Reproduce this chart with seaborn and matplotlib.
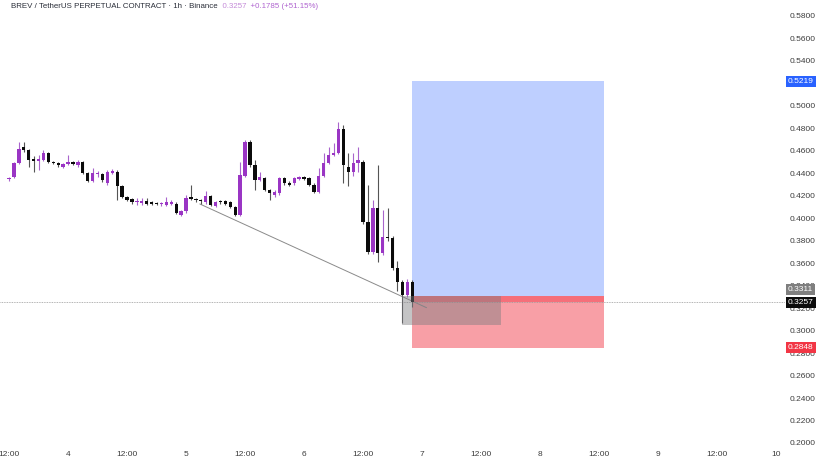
import numpy as np
import pandas as pd
import seaborn as sns
import matplotlib
matplotlib.use("Agg")
import matplotlib.pyplot as plt
from matplotlib.patches import Rectangle

# ---------------- data ----------------
opens = [.435, .437, .449, .463, .461, .453, .451, .452, .458, .450,
         .449, .446, .448, .450, .447, .450, .440, .433, .439, .439,
         .431, .440, .441, .429, .419, .417, .414, .4136, .415, .414,
         .413, .4125, .412, .413, .413, .403, .406, .419, .417, .416,
         .414, .420, .411, .415, .415, .414, .410, .403, .438, .468,
         .447, .434, .436, .425, .421, .422, .436, .431, .431, .435,
         .437, .436, .430, .423, .438, .449, .456, .458, .479, .446,
         .441, .449, .450, .397, .370, .409, .369, .383, .382, .356,
         .343, .332, .343]
highs = [.437, .450, .468, .468, .462, .455, .456, .461, .459, .451,
         .450, .449, .456, .451, .452, .451, .441, .445, .442, .440,
         .443, .444, .443, .430, .420, .418, .418, .418, .418, .415,
         .414, .414, .419, .416, .414, .407, .421, .430, .418, .417,
         .424, .421, .415, .416, .416, .415, .411, .450, .470, .470,
         .452, .441, .437, .426, .425, .437, .437, .433, .437, .438,
         .438, .437, .431, .445, .458, .463, .467, .486, .483, .458,
         .458, .463, .452, .430, .416, .447, .407, .409, .384, .362,
         .345, .346, .345]
lows = [.433, .436, .448, .459, .446, .441, .443, .451, .449, .448,
        .446, .445, .447, .447, .446, .439, .432, .432, .437, .432,
        .430, .439, .416, .418, .415, .413, .412, .412, .412, .412,
        .412, .411, .411, .412, .404, .402, .405, .416, .414, .413,
        .413, .411, .410, .413, .412, .409, .402, .402, .437, .446,
        .425, .433, .424, .416, .419, .421, .430, .429, .430, .434,
        .434, .429, .422, .422, .437, .448, .455, .457, .431, .429,
        .438, .441, .395, .368, .368, .361, .367, .380, .354, .335,
        .307, .330, .321]
closes = [.436, .449, .462, .461, .452, .451, .453, .458, .450, .449,
          .447, .448, .450, .448, .450, .440, .433, .440, .440, .434,
          .441, .442, .429, .419, .416, .414, .4145, .415, .413, .413,
          .4125, .413, .414, .414, .405, .406, .418, .417, .416, .415,
          .420, .412, .414, .414, .413, .410, .403, .4385, .468, .447,
          .434, .437, .425, .422, .423, .436, .431, .430, .436, .437,
          .435, .430, .423, .438, .449, .456, .458, .479, .447, .441,
          .449, .452, .397, .370, .409, .369, .383, .382, .356, .343,
          .332, .343, .3257]

tick_pos = [0, 12, 24, 36, 48, 60, 72, 84, 96, 108, 120, 132, 144, 156]
tick_labels = ["12:00", "4", "12:00", "5", "12:00", "6", "12:00", "7",
               "12:00", "8", "12:00", "9", "12:00", "10"]
# 0.52 is fully hidden behind the target tag in the reference
price_ticks = [0.20, 0.22, 0.24, 0.26, 0.28, 0.30, 0.32, 0.34, 0.36, 0.38,
               0.40, 0.42, 0.44, 0.46, 0.48, 0.50, 0.54, 0.56, 0.58]

entry_price = 0.3311
target_price = 0.5219
stop_price = 0.2848
current_price = 0.3257
box_start, box_end = 82, 121
grey_start, grey_end, grey_low = 80, 100, 0.3054
trend_x = [38.8, 84.9]
trend_y = [0.4127, 0.3204]

df = pd.DataFrame({"i": np.arange(len(opens)), "open": opens, "high": highs,
                   "low": lows, "close": closes})
df["up"] = df["close"] >= df["open"]

# ---------------- style ----------------
sns.set_theme(style="white")
plt.rcParams["font.family"] = ["Liberation Sans", "DejaVu Sans"]

PURPLE = "#9a35c4"
PURPLE_WICK = "#a964cc"
BLACK = "#0b0b0b"
BLACK_WICK = "#555555"

fig = plt.figure(figsize=(8.29, 4.66), dpi=100)
ax = fig.add_axes([0, 19 / 466, 785 / 829, 447 / 466])
for s in ax.spines.values():
    s.set_visible(False)

# position tool boxes
ax.add_patch(Rectangle((box_start, entry_price), box_end - box_start,
                       target_price - entry_price, fc="#2962ff", alpha=0.30,
                       ec="none", zorder=1))
ax.add_patch(Rectangle((box_start, stop_price), box_end - box_start,
                       entry_price - stop_price, fc="#f23645", alpha=0.48,
                       ec="none", zorder=1))
ax.add_patch(Rectangle((box_start, current_price), box_end - box_start,
                       entry_price - current_price, fc="#f23645", alpha=0.45,
                       ec="none", zorder=1))
ax.add_patch(Rectangle((grey_start, grey_low), grey_end - grey_start,
                       entry_price - grey_low, fc="#7c7c80", alpha=0.45,
                       ec="none", zorder=4))

# current price line
ax.axhline(current_price, color="#9a9a9a", lw=0.6, ls=(0, (1, 1)), zorder=2)

# trend line
sns.lineplot(x=trend_x, y=trend_y, ax=ax, color="#8a8a8a", lw=0.7, zorder=2)

# candles
for up, body_c, wick_c in [(True, PURPLE, PURPLE_WICK), (False, BLACK, BLACK_WICK)]:
    d = df[df["up"] == up]
    ax.vlines(d["i"], d["low"], d["high"], color=wick_c, lw=0.8, zorder=3)
    bottoms = np.minimum(d["open"], d["close"])
    heights = np.maximum(np.abs(d["close"] - d["open"]), 0.0012)
    ax.bar(d["i"], heights, bottom=bottoms, width=0.68, color=body_c,
           edgecolor="none", zorder=3)

ax.set_xlim(-1.83, 157.8)
ax.set_ylim(0.1964, 0.5942)

ax.set_xticks(tick_pos)
ax.set_xticklabels(tick_labels)
ax.set_yticks(price_ticks)
ax.set_yticklabels([f"{p:.4f}" for p in price_ticks])
ax.yaxis.tick_right()
ax.tick_params(axis="y", length=0, pad=3.6, labelsize=6.0, colors="#3c3c3c")
ax.tick_params(axis="x", length=0, pad=3.0, labelsize=6.0, colors="#3c3c3c")
ax.set_xlabel("")
ax.set_ylabel("")
ax.grid(False)


def tag(price, text, bg, dy=0.0):
    ax.annotate(text, xy=(1, price), xycoords=("axes fraction", "data"),
                xytext=(2.2, dy), textcoords="offset points", ha="left",
                va="center", fontsize=6.0, color="white",
                bbox=dict(boxstyle="square,pad=0.22", fc=bg, ec="none"),
                annotation_clip=False, zorder=10)


tag(target_price, "0.5219", "#2962ff")
tag(entry_price, "0.3311", "#7f7f7f", dy=4.6)
tag(current_price, "0.3257", "#0b0b0b", dy=-0.4)
tag(stop_price, "0.2848", "#f23645")

# header
t1 = fig.text(11 / 829, 1 - 6 / 466,
              "BREV / TetherUS PERPETUAL CONTRACT · 1h · Binance",
              fontsize=5.7, color="#2a2e39", va="center", ha="left")
a2 = ax.annotate("  0.3257", xy=(1, 0.5), xycoords=t1, va="center", ha="left",
                 fontsize=5.7, color="#c48ad8", annotation_clip=False)
ax.annotate("  +0.1785 (+51.15%)", xy=(1, 0.5), xycoords=a2, va="center",
            ha="left", fontsize=5.7, color="#b065d0", annotation_clip=False)

fig.savefig("out.png", dpi=100)
